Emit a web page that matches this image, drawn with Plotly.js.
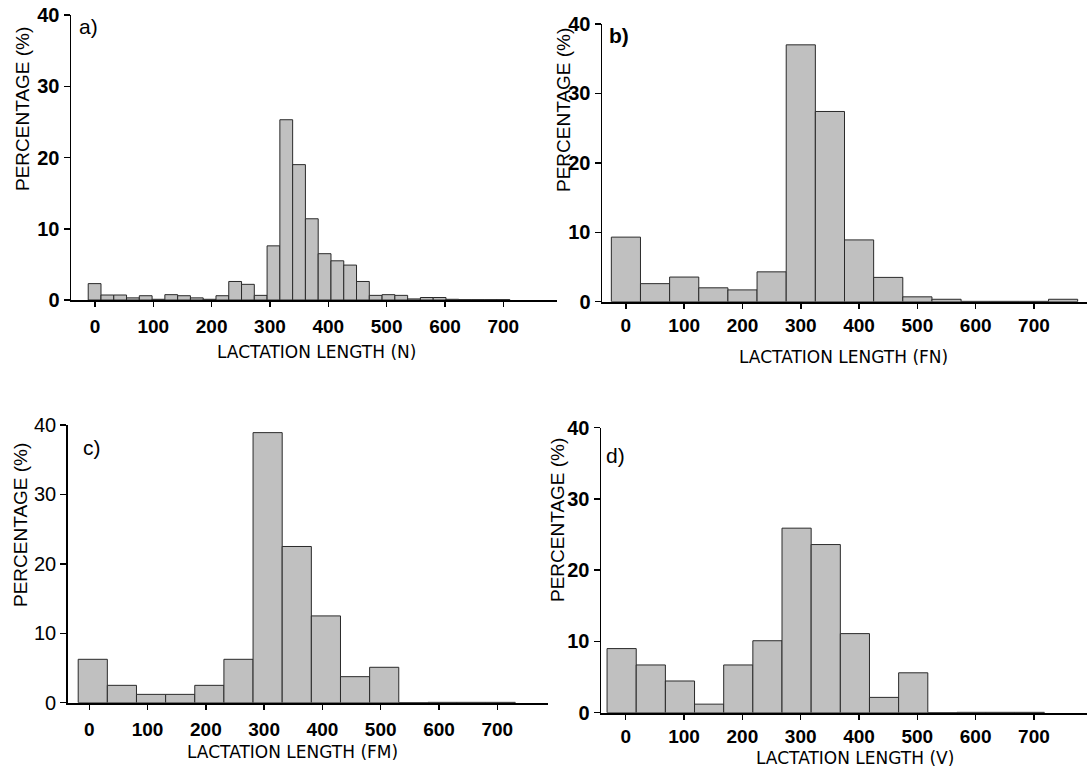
<!DOCTYPE html>
<html><head><meta charset="utf-8">
<script src="https://cdn.plot.ly/plotly-3.0.1.min.js"></script>
<style>html,body{margin:0;padding:0;background:#fff}#chart{width:1087px;height:772px}</style>
</head><body><div id="chart"></div>
<script>
// ---- data (percentage of lactations per lactation-length bin) ----
// a) N : narrow bins
const binStartN = -11.5, binWidthN = 21.9;
const pctN = [2.3, 0.7, 0.7, 0.3, 0.6, 0.1, 0.75, 0.6, 0.3, 0.1, 0.6, 2.6, 2.2, 0.65,
              7.6, 25.3, 19.0, 11.4, 6.5, 5.5, 4.9, 2.6, 0.65, 0.75, 0.65, 0.15, 0.35, 0.35,
              0.1, 0.05, 0.05, 0.05, 0.05];
// b) FN
const binStartFN = -25, binWidthFN = 50;
const pctFN = [9.3, 2.6, 3.55, 2.0, 1.7, 4.3, 37.0, 27.4, 8.9, 3.5, 0.7, 0.35, 0.05, 0.05, 0.05, 0.35];
// c) FM
const binStartFM = -19, binWidthFM = 50;
const pctFM = [6.25, 2.5, 1.2, 1.2, 2.5, 6.25, 38.9, 22.5, 12.5, 3.75, 5.1, 0, 0.05, 0.05, 0.05];
// d) V
const binStartV = -32, binWidthV = 50;
const pctV = [9.0, 6.7, 4.45, 1.2, 6.7, 10.1, 25.9, 23.6, 11.1, 2.15, 5.6, 0, 0.05, 0.05, 0.05];

const xTickVals = [0, 100, 200, 300, 400, 500, 600, 700];
const yTickVals = [0, 10, 20, 30, 40];
const panelLabels = ['a)', 'b)', 'c)', 'd)'];
const xTitles = ['LACTATION LENGTH (N)', 'LACTATION LENGTH (FN)', 'LACTATION LENGTH (FM)', 'LACTATION LENGTH (V)'];
const yTitle = 'PERCENTAGE (%)';

// ---- rendering ----
const W = 1087, H = 772;
const px = x => x / W, py = y => 1 - y / H;

function centers(start, width, n) {
  const c = [];
  for (let i = 0; i < n; i++) c.push(start + width * (i + 0.5));
  return c;
}
const series = [
  {s: binStartN, w: binWidthN, v: pctN},
  {s: binStartFN, w: binWidthFN, v: pctFN},
  {s: binStartFM, w: binWidthFM, v: pctFM},
  {s: binStartV, w: binWidthV, v: pctV}
];
const axesNames = ['', '2', '3', '4'];
const traces = series.map((d, i) => ({
  type: 'bar',
  x: centers(d.s, d.w, d.v.length),
  y: d.v,
  width: d.w,
  xaxis: 'x' + axesNames[i],
  yaxis: 'y' + axesNames[i],
  marker: {color: '#c0c0c0', line: {color: '#2a2a2a', width: 1}},
  showlegend: false,
  hoverinfo: 'x+y'
}));

// panel boxes in pixels: [left, right, top, bottom], x range, tick standoff, y tick bold
const boxes = [
  {l: 71, r: 557, t: 15, b: 300, xr: [-41, 792], so: 3, ybold: true},
  {l: 602, r: 1087, t: 24, b: 301.7, xr: [-41, 791], so: 0, ybold: true},
  {l: 67.7, r: 548, t: 425, b: 702.7, xr: [-37, 787], so: 3, ybold: false},
  {l: 601, r: 1087, t: 427.7, b: 712.7, xr: [-42.4, 791], so: 0, ybold: true}
];
const tickFontX = {family: 'Liberation Sans, Arial, sans-serif', size: 19, color: '#000', weight: 'bold'};
const layout = {
  width: W, height: H,
  margin: {l: 0, r: 0, t: 0, b: 0},
  paper_bgcolor: '#fff', plot_bgcolor: 'rgba(0,0,0,0)',
  bargap: 0,
  annotations: [],
  font: {family: 'Liberation Sans, Arial, sans-serif', color: '#000'}
};
boxes.forEach((b, i) => {
  const xa = 'xaxis' + axesNames[i], ya = 'yaxis' + axesNames[i];
  layout[xa] = {
    domain: [px(b.l), px(b.r)], range: b.xr, anchor: 'y' + axesNames[i],
    tickvals: xTickVals, ticks: 'outside', ticklen: 5, tickwidth: 1.5, tickcolor: '#000',
    showline: true, linecolor: '#000', linewidth: 2, showgrid: false, zeroline: false,
    tickfont: tickFontX, ticklabelstandoff: b.so, fixedrange: true
  };
  layout[ya] = {
    domain: [py(b.b), py(b.t)], range: [0, 40], anchor: 'x' + axesNames[i],
    tickvals: yTickVals, ticks: 'outside', ticklen: 6, tickwidth: 1.5, tickcolor: '#000',
    showline: true, linecolor: '#000', linewidth: 1.5, showgrid: false, zeroline: false,
    tickfont: {family: 'Liberation Sans, Arial, sans-serif', size: 20, color: '#000', weight: b.ybold ? 'bold' : 'normal'},
    fixedrange: true
  };
});

// axis titles and panel labels
const yTitlePos = [[22, 109], [563, 110], [20, 525], [557, 520]];
const xTitlePos = [[316, 352], [843, 357], [292, 752], [855, 758]];
const labelPos = [[88, 26, false], [619, 35, true], [92, 448, false], [615, 455, false]];
for (let i = 0; i < 4; i++) {
  layout.annotations.push({
    xref: 'paper', yref: 'paper', x: px(yTitlePos[i][0]), y: py(yTitlePos[i][1]),
    xanchor: 'center', yanchor: 'middle', showarrow: false, textangle: -90,
    text: yTitle, font: {family: 'Liberation Sans, Arial, sans-serif', size: 19, color: '#000'}
  });
  layout.annotations.push({
    xref: 'paper', yref: 'paper', x: px(xTitlePos[i][0]), y: py(xTitlePos[i][1]),
    xanchor: 'center', yanchor: 'middle', showarrow: false,
    text: xTitles[i], font: {family: 'DejaVu Sans, Verdana, sans-serif', size: 17, color: '#000'}
  });
  layout.annotations.push({
    xref: 'paper', yref: 'paper', x: px(labelPos[i][0]), y: py(labelPos[i][1]),
    xanchor: 'center', yanchor: 'middle', showarrow: false,
    text: panelLabels[i],
    font: {family: 'Liberation Sans, Arial, sans-serif', size: 21, color: '#000', weight: labelPos[i][2] ? 'bold' : 'normal'}
  });
}

Plotly.newPlot('chart', traces, layout, {displayModeBar: false, staticPlot: true});
</script>
</body></html>
